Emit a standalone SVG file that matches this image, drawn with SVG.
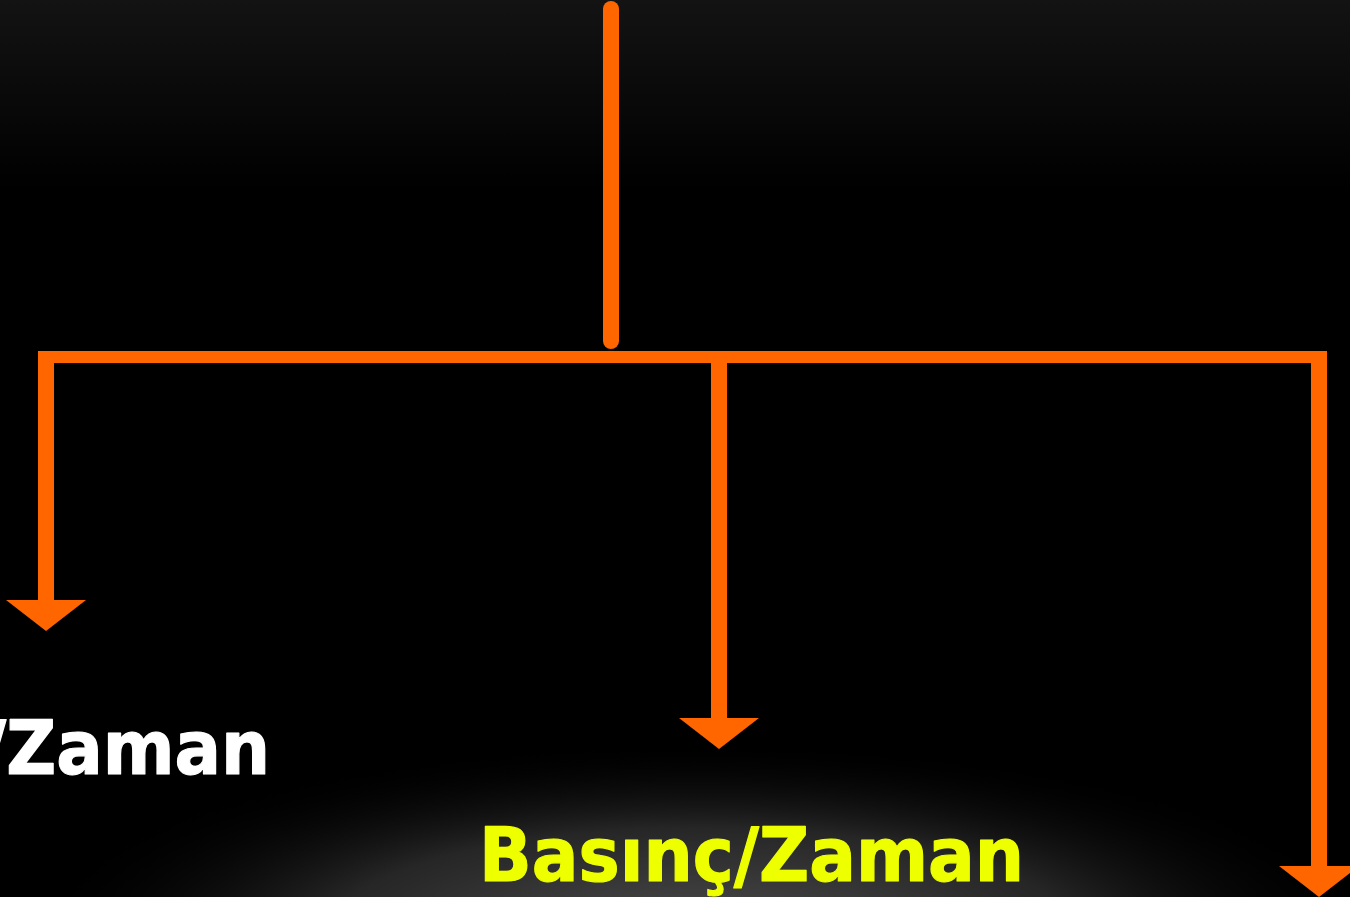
<svg xmlns="http://www.w3.org/2000/svg" width="1350" height="897" viewBox="0 0 1350 897">
  <defs>
    <linearGradient id="topShade" x1="0" y1="0" x2="0" y2="1">
      <stop offset="0" stop-color="#131313"/>
      <stop offset="1" stop-color="#000000"/>
    </linearGradient>
    <radialGradient id="floorGlow" cx="0.5" cy="0.5" r="0.5">
      <stop offset="0" stop-color="#4c4c4c"/>
      <stop offset="0.55" stop-color="#262626"/>
      <stop offset="1" stop-color="#000000" stop-opacity="0"/>
    </radialGradient>
    <marker id="head" viewBox="0 0 31 80" refX="0" refY="40" markerWidth="31" markerHeight="80" markerUnits="userSpaceOnUse" orient="auto">
      <path d="M0,0 L31,40 L0,80 Z" fill="#ff6600"/>
    </marker>
  </defs>
  <style>
    .wire { fill: none; stroke: #ff6600; }
    .trunk { stroke-width: 16; stroke-linecap: round; }
    .bar { stroke-width: 12; }
    .drop { stroke-width: 16; }
    .label { font-family: "DejaVu Sans", Verdana, sans-serif; font-weight: bold; font-size: 74px; stroke-width: 1.2; stroke-linejoin: round; }
  </style>

  <!-- backdrop -->
  <rect x="0" y="0" width="1350" height="897" fill="#000"/>
  <rect x="0" y="0" width="1350" height="190" fill="url(#topShade)"/>
  <ellipse cx="700" cy="935" rx="680" ry="195" fill="url(#floorGlow)"/>

  <!-- connectors -->
  <g id="connectors">
    <path class="wire trunk" d="M611,9 V341"/>
    <path class="wire bar" d="M42,357 H1323"/>
    <path class="wire drop" d="M46,351 V600" marker-end="url(#head)"/>
    <path class="wire drop" d="M719,357 V718" marker-end="url(#head)"/>
    <path class="wire drop" d="M1319,351 V866" marker-end="url(#head)"/>
  </g>

  <!-- nodes -->
  <g id="node-left">
    <text class="label" x="270" y="774" text-anchor="end" fill="#ffffff" stroke="#ffffff" textLength="289" lengthAdjust="spacingAndGlyphs">/Zaman</text>
  </g>
  <g id="node-middle">
    <text class="label" x="479" y="881" fill="#eeff00" stroke="#eeff00" textLength="545" lengthAdjust="spacingAndGlyphs">Basınç/Zaman</text>
  </g>
</svg>
